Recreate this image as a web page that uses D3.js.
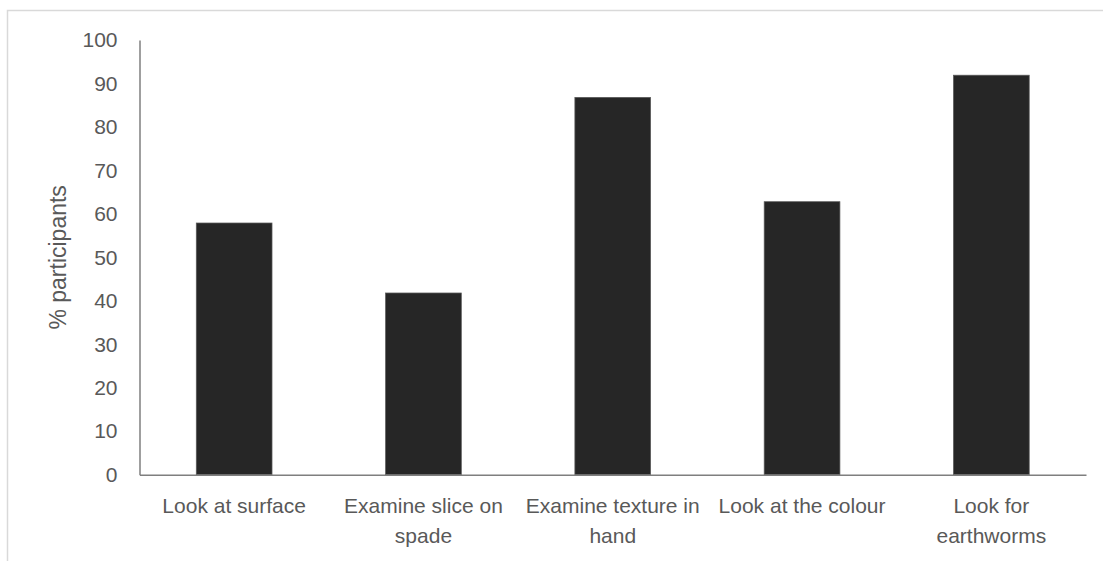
<!DOCTYPE html>
<html>
<head>
<meta charset="utf-8">
<script src="https://cdn.jsdelivr.net/npm/d3@7"></script>
<style>
  html, body { margin: 0; padding: 0; background: #fff; }
  svg { display: block; }
  text { font-family: "Liberation Sans", Arial, sans-serif; fill: #595959; }
</style>
</head>
<body>
<svg id="chart" width="1103" height="561"></svg>
<script>
// Share of participants using each method to assess soil
const categories = [
  "Look at surface",
  "Examine slice on spade",
  "Examine texture in hand",
  "Look at the colour",
  "Look for earthworms"
];
const percentages = [57.9, 41.8, 86.8, 62.8, 91.9];
const yTicks = [0, 10, 20, 30, 40, 50, 60, 70, 80, 90, 100];
const yTitle = "% participants";

const W = 1103, H = 561;
const plot = { left: 139.5, right: 1086, top: 40, bottom: 474.7 };

const svg = d3.select("#chart");

// outer chart frame (only the top and left edges fall inside the canvas)
svg.append("rect")
  .attr("x", 7.5).attr("y", 10.5)
  .attr("width", W + 20).attr("height", H + 20)
  .attr("fill", "none")
  .attr("stroke", "#d9d9d9")
  .attr("stroke-width", 1.5);

const x = d3.scaleBand()
  .domain(categories)
  .range([plot.left, plot.right])
  .padding(0);

const y = d3.scaleLinear()
  .domain([0, 100])
  .range([plot.bottom, plot.top]);

const barW = x.bandwidth() * 0.4;

// bars
svg.append("g")
  .selectAll("rect")
  .data(categories)
  .join("rect")
  .attr("x", d => x(d) + (x.bandwidth() - barW) / 2)
  .attr("y", (d, i) => y(percentages[i]))
  .attr("width", barW)
  .attr("height", (d, i) => y(0) - y(percentages[i]))
  .attr("fill", "#262626")
  .attr("stroke", "#595959")
  .attr("stroke-width", 0.75);

// y axis: line plus labels, no tick marks
const yAxis = svg.append("g")
  .attr("transform", `translate(${plot.left},0)`)
  .call(d3.axisLeft(y).tickValues(yTicks).tickSize(0).tickPadding(22));
yAxis.select(".domain").attr("stroke", "#7f7f7f").attr("stroke-width", 1.5);
yAxis.selectAll("text")
  .style("font-family", '"Liberation Sans", Arial, sans-serif')
  .style("font-size", "21px")
  .attr("fill", "#595959");

// x axis: baseline plus wrapped category labels
const xAxis = svg.append("g")
  .attr("transform", `translate(0,${plot.bottom})`)
  .call(d3.axisBottom(x).tickSize(0).tickPadding(0));
xAxis.select(".domain").attr("stroke", "#7f7f7f").attr("stroke-width", 1.5);
xAxis.selectAll("text")
  .style("font-family", '"Liberation Sans", Arial, sans-serif')
  .style("font-size", "21px")
  .attr("fill", "#595959")
  .attr("y", 0)
  .attr("dy", null)
  .each(function (d) { wrap(d3.select(this), d, x.bandwidth() - 8); });

function wrap(textSel, label, maxW) {
  const words = label.split(" ");
  textSel.text(null);
  const lines = [];
  let current = [];
  const probe = textSel.append("tspan");
  words.forEach(w => {
    const trial = current.concat(w).join(" ");
    probe.text(trial);
    if (probe.node().getComputedTextLength() > maxW && current.length) {
      lines.push(current.join(" "));
      current = [w];
    } else {
      current.push(w);
    }
  });
  lines.push(current.join(" "));
  probe.remove();
  lines.forEach((ln, i) => {
    textSel.append("tspan")
      .attr("x", 0)
      .attr("y", 38 + i * 30)
      .text(ln);
  });
}

// y axis title
svg.append("text")
  .attr("transform", `translate(66,${(plot.top + plot.bottom) / 2}) rotate(-90)`)
  .attr("text-anchor", "middle")
  .style("font-size", "23px")
  .text(yTitle);
</script>
</body>
</html>
